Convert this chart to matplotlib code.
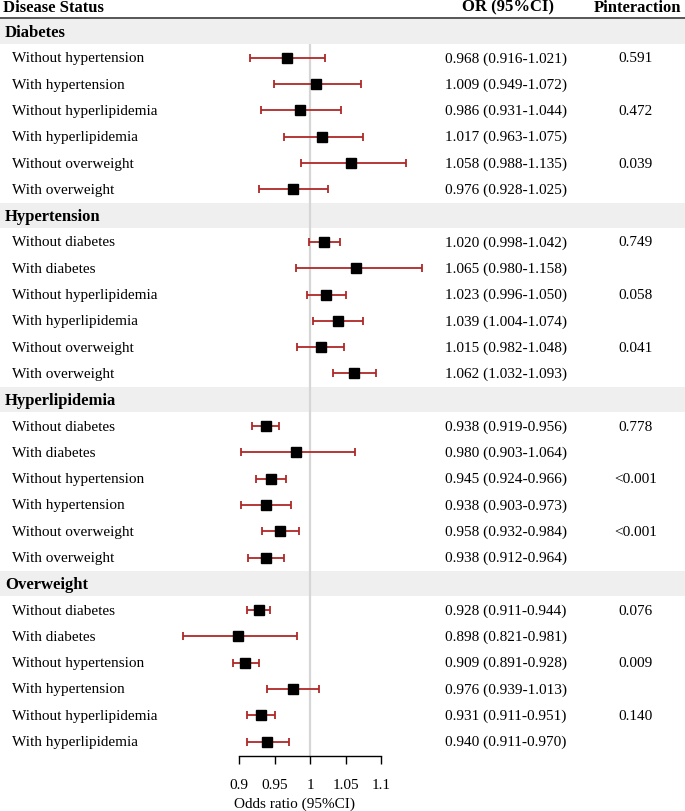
import matplotlib
matplotlib.use("Agg")
import matplotlib.pyplot as plt

plt.rcParams['font.family'] = ['Liberation Serif', 'DejaVu Serif']

# data
groups = ["Diabetes", "Hypertension", "Hyperlipidemia", "Overweight"]
sub_labels = [
    ["Without hypertension", "With hypertension", "Without hyperlipidemia",
     "With hyperlipidemia", "Without overweight", "With overweight"],
    ["Without diabetes", "With diabetes", "Without hyperlipidemia",
     "With hyperlipidemia", "Without overweight", "With overweight"],
    ["Without diabetes", "With diabetes", "Without hypertension",
     "With hypertension", "Without overweight", "With overweight"],
    ["Without diabetes", "With diabetes", "Without hypertension",
     "With hypertension", "Without hyperlipidemia", "With hyperlipidemia"],
]
odds = [
    [0.968, 1.009, 0.986, 1.017, 1.058, 0.976],
    [1.020, 1.065, 1.023, 1.039, 1.015, 1.062],
    [0.938, 0.980, 0.945, 0.938, 0.958, 0.938],
    [0.928, 0.898, 0.909, 0.976, 0.931, 0.940],
]
ci_low = [
    [0.916, 0.949, 0.931, 0.963, 0.988, 0.928],
    [0.998, 0.980, 0.996, 1.004, 0.982, 1.032],
    [0.919, 0.903, 0.924, 0.903, 0.932, 0.912],
    [0.911, 0.821, 0.891, 0.939, 0.911, 0.911],
]
ci_high = [
    [1.021, 1.072, 1.044, 1.075, 1.135, 1.025],
    [1.042, 1.158, 1.050, 1.074, 1.048, 1.093],
    [0.956, 1.064, 0.966, 0.973, 0.984, 0.964],
    [0.944, 0.981, 0.928, 1.013, 0.951, 0.970],
]
p_inter = [
    ["0.591", "", "0.472", "", "0.039", ""],
    ["0.749", "", "0.058", "", "0.041", ""],
    ["0.778", "", "<0.001", "", "<0.001", ""],
    ["0.076", "", "0.009", "", "0.140", ""],
]
xticks = [0.9, 0.95, 1, 1.05, 1.1]
xtick_labels = ["0.9", "0.95", "1", "1.05", "1.1"]

# layout (pixels)
W, H = 685, 812
Y0, ROW = 32.5, 26.3


def row_of(py):
    return (py - Y0) / ROW


fig = plt.figure(figsize=(W / 100, H / 100), dpi=100)
bg = fig.add_axes([0, 0, 1, 1])
bg.set_xlim(0, W)
bg.set_ylim(row_of(H), row_of(0))
bg.axis("off")

# forest axes: x from pixel 150 to 440, y from pixel 45 to 757
px_l, px_r, px_t, px_b = 150, 440, 45, 757
fa = fig.add_axes([px_l / W, (H - px_b) / H, (px_r - px_l) / W, (px_b - px_t) / H])
fa.set_xlim(1 + (px_l - 310) / 710, 1 + (px_r - 310) / 710)
fa.set_ylim(row_of(px_b), row_of(px_t))
fa.patch.set_alpha(0)
for s in ["left", "right", "top"]:
    fa.spines[s].set_visible(False)
fa.spines["bottom"].set_bounds(0.9, 1.1)
fa.spines["bottom"].set_linewidth(1.0)
fa.set_yticks([])
fa.set_xticks(xticks)
fa.set_xticklabels(xtick_labels, fontsize=11)
fa.tick_params(axis="x", length=6, width=1.0, pad=10)
fa.set_xlabel("Odds ratio (95%CI)", fontsize=11, labelpad=4)
fa.axvline(1, color="#d6d6d6", lw=1.6, zorder=0)

# column headers
bg.axhline(-0.5, color="#3a3a3a", lw=1.2)
bg.text(3, -0.95, "Disease Status", fontsize=12, fontweight="bold", va="center")
bg.text(508, -0.95, "OR (95%CI)", fontsize=12, fontweight="bold", va="center", ha="center")
bg.text(638, -0.95, "Pinteraction", fontsize=12, fontweight="bold", va="center", ha="center")

k = 0
for g in range(len(groups)):
    bg.axhspan(k - 0.48, k + 0.48, color="#efefef", lw=0, zorder=0)
    bg.text(5, k, groups[g], fontsize=12, fontweight="bold", va="center")
    k += 1
    for i in range(len(sub_labels[g])):
        o, lo, hi = odds[g][i], ci_low[g][i], ci_high[g][i]
        bg.text(12, k, sub_labels[g][i], fontsize=11, va="center")
        bg.text(506, k, f"{o:.3f} ({lo:.3f}-{hi:.3f})", fontsize=11, va="center", ha="center")
        bg.text(636, k, p_inter[g][i], fontsize=11, va="center", ha="center")
        fa.errorbar(o, k, xerr=[[o - lo], [hi - o]], fmt="none", ecolor="#b02828",
                    elinewidth=1.3, capsize=3, capthick=1.3, clip_on=False)
        fa.plot(o, k, marker="s", color="black", markersize=7.5, clip_on=False, zorder=3)
        k += 1

fig.savefig("out.png", dpi=100)
